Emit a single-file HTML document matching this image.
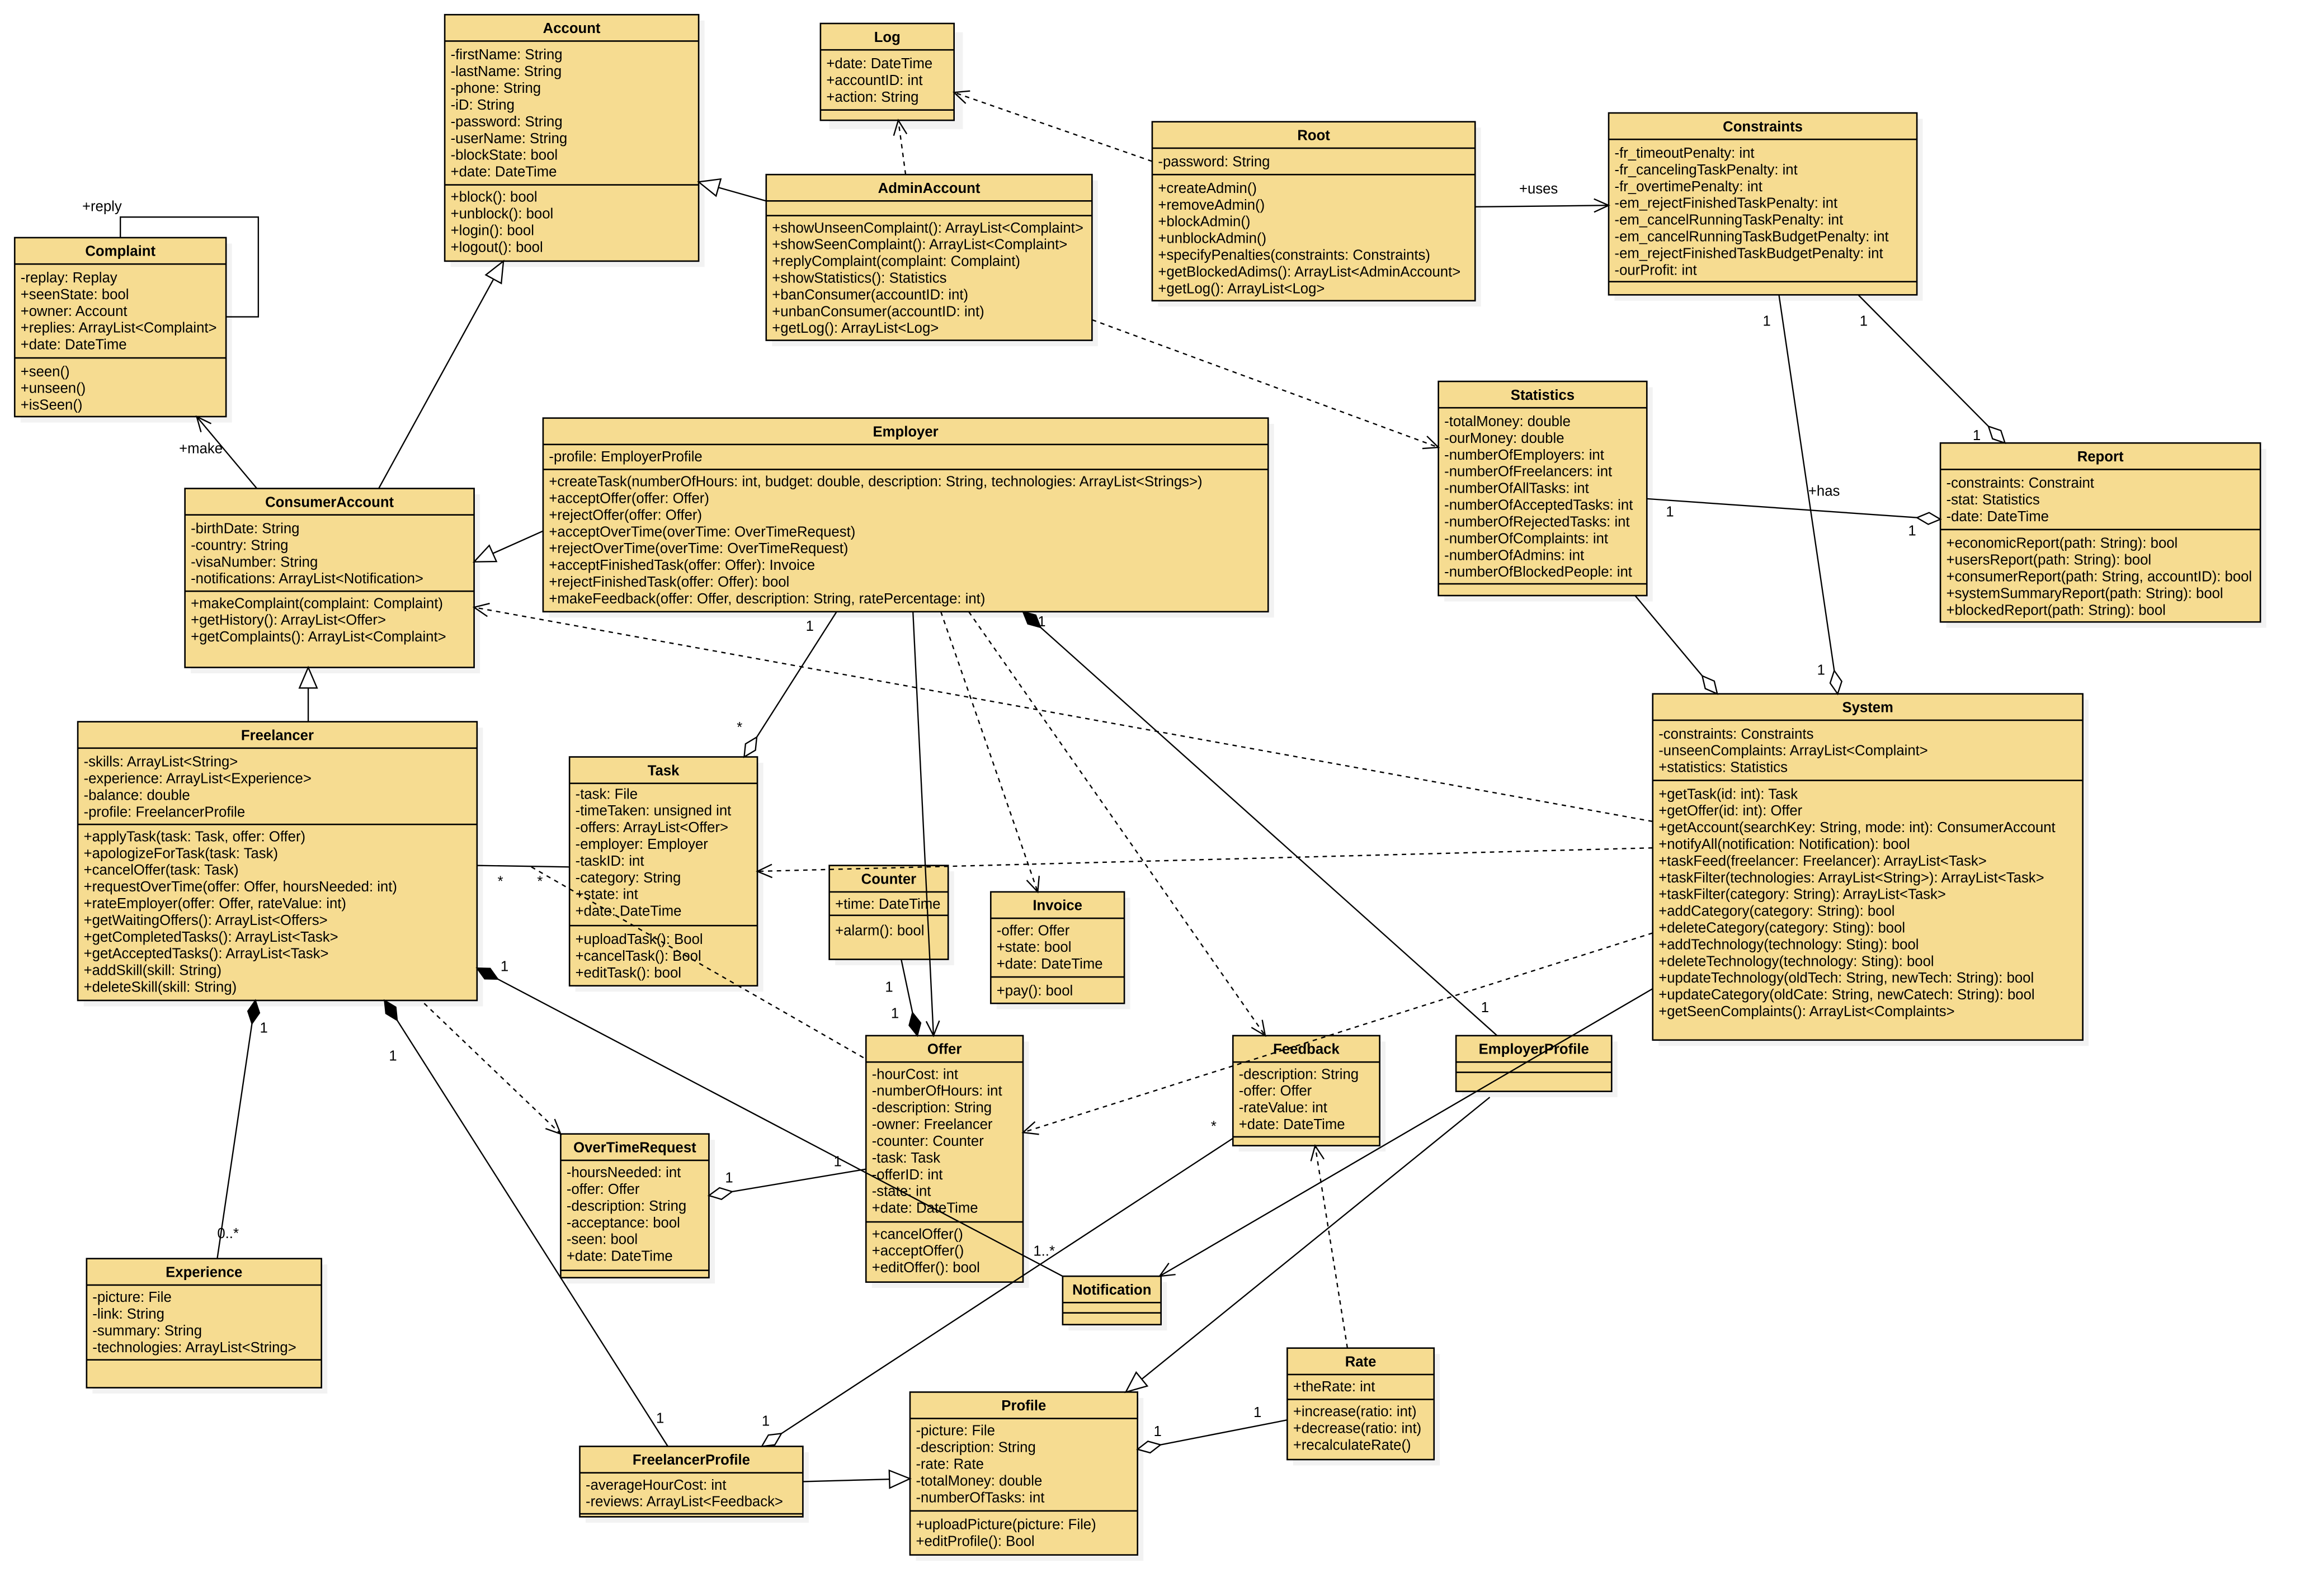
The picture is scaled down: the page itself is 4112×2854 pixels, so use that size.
<!DOCTYPE html>
<html><head><meta charset="utf-8"><style>
html,body{margin:0;padding:0;background:#fff}
svg{display:block}
text{font-family:"Liberation Sans",Arial,sans-serif;font-size:9.8px;fill:#000}
.h{font-weight:bold;text-anchor:middle}
.b{fill:#f6dc91;stroke:#000;stroke-width:1}
.s{fill:#f2f2f2}
.l{stroke:#000;stroke-width:1}
.c{stroke:#000;stroke-width:0.9;fill:none}
.d{stroke:#000;stroke-width:0.9;fill:none;stroke-dasharray:3,3}
</style></head><body>
<svg width="4112" height="2854" viewBox="0 0 1567 1088" preserveAspectRatio="none" xmlns="http://www.w3.org/2000/svg">
<defs>
<marker id="ar" markerUnits="userSpaceOnUse" markerWidth="14" markerHeight="12" refX="10" refY="6" orient="auto" overflow="visible"><path d="M0,1.5 L10,6 L0,10.5" fill="none" stroke="#000" stroke-width="0.9"/></marker>
<marker id="tr" markerUnits="userSpaceOnUse" markerWidth="16" markerHeight="14" refX="14" refY="7" orient="auto" overflow="visible"><path d="M0,1 L14,7 L0,13 Z" fill="#fff" stroke="#000" stroke-width="0.9"/></marker>
<marker id="df" markerUnits="userSpaceOnUse" markerWidth="18" markerHeight="10" refX="16" refY="5" orient="auto" overflow="visible"><path d="M0,5 L8,1 L16,5 L8,9 Z" fill="#000" stroke="#000" stroke-width="0.9"/></marker>
<marker id="dh" markerUnits="userSpaceOnUse" markerWidth="18" markerHeight="10" refX="16" refY="5" orient="auto" overflow="visible"><path d="M0,5 L8,1 L16,5 L8,9 Z" fill="#fff" stroke="#000" stroke-width="0.9"/></marker>
</defs>

<!-- Account -->
<rect class="s" x="307" y="14" width="173" height="168"/>
<rect class="b" x="303" y="10" width="173" height="168"/>
<line class="l" x1="303" y1="28" x2="476" y2="28"/><line class="l" x1="303" y1="126" x2="476" y2="126"/>
<text class="h" x="389.5" y="22.5">Account</text>
<text x="307" y="40.5">-firstName: String<tspan x="307" dy="11.4">-lastName: String</tspan><tspan x="307" dy="11.4">-phone: String</tspan><tspan x="307" dy="11.4">-iD: String</tspan><tspan x="307" dy="11.4">-password: String</tspan><tspan x="307" dy="11.4">-userName: String</tspan><tspan x="307" dy="11.4">-blockState: bool</tspan><tspan x="307" dy="11.4">+date: DateTime</tspan></text>
<text x="307" y="137.5">+block(): bool<tspan x="307" dy="11.4">+unblock(): bool</tspan><tspan x="307" dy="11.4">+login(): bool</tspan><tspan x="307" dy="11.4">+logout(): bool</tspan></text>

<!-- Log -->
<rect class="s" x="565" y="22" width="91" height="66"/>
<rect class="b" x="559" y="16" width="91" height="66"/>
<line class="l" x1="559" y1="34" x2="650" y2="34"/><line class="l" x1="559" y1="75" x2="650" y2="75"/>
<text class="h" x="604.5" y="28.5">Log</text>
<text x="563" y="46.5">+date: DateTime<tspan x="563" dy="11.4">+accountID: int</tspan><tspan x="563" dy="11.4">+action: String</tspan></text>

<!-- AdminAccount -->
<rect class="s" x="526" y="123" width="222" height="113"/>
<rect class="b" x="522" y="119" width="222" height="113"/>
<line class="l" x1="522" y1="137" x2="744" y2="137"/><line class="l" x1="522" y1="147" x2="744" y2="147"/>
<text class="h" x="633" y="131.5">AdminAccount</text>
<text x="526" y="158.5">+showUnseenComplaint(): ArrayList&lt;Complaint&gt;<tspan x="526" dy="11.4">+showSeenComplaint(): ArrayList&lt;Complaint&gt;</tspan><tspan x="526" dy="11.4">+replyComplaint(complaint: Complaint)</tspan><tspan x="526" dy="11.4">+showStatistics(): Statistics</tspan><tspan x="526" dy="11.4">+banConsumer(accountID: int)</tspan><tspan x="526" dy="11.4">+unbanConsumer(accountID: int)</tspan><tspan x="526" dy="11.4">+getLog(): ArrayList&lt;Log&gt;</tspan></text>

<!-- Root -->
<rect class="s" x="789" y="87" width="220" height="122"/>
<rect class="b" x="785" y="83" width="220" height="122"/>
<line class="l" x1="785" y1="101" x2="1005" y2="101"/><line class="l" x1="785" y1="119" x2="1005" y2="119"/>
<text class="h" x="895" y="95.5">Root</text>
<text x="789" y="113.5">-password: String</text>
<text x="789" y="131.5">+createAdmin()<tspan x="789" dy="11.4">+removeAdmin()</tspan><tspan x="789" dy="11.4">+blockAdmin()</tspan><tspan x="789" dy="11.4">+unblockAdmin()</tspan><tspan x="789" dy="11.4">+specifyPenalties(constraints: Constraints)</tspan><tspan x="789" dy="11.4">+getBlockedAdims(): ArrayList&lt;AdminAccount&gt;</tspan><tspan x="789" dy="11.4">+getLog(): ArrayList&lt;Log&gt;</tspan></text>

<!-- Constraints -->
<rect class="s" x="1100" y="81" width="210" height="124"/>
<rect class="b" x="1096" y="77" width="210" height="124"/>
<line class="l" x1="1096" y1="95" x2="1306" y2="95"/><line class="l" x1="1096" y1="192" x2="1306" y2="192"/>
<text class="h" x="1201" y="89.5">Constraints</text>
<text x="1100" y="107.5">-fr_timeoutPenalty: int<tspan x="1100" dy="11.4">-fr_cancelingTaskPenalty: int</tspan><tspan x="1100" dy="11.4">-fr_overtimePenalty: int</tspan><tspan x="1100" dy="11.4">-em_rejectFinishedTaskPenalty: int</tspan><tspan x="1100" dy="11.4">-em_cancelRunningTaskPenalty: int</tspan><tspan x="1100" dy="11.4">-em_cancelRunningTaskBudgetPenalty: int</tspan><tspan x="1100" dy="11.4">-em_rejectFinishedTaskBudgetPenalty: int</tspan><tspan x="1100" dy="11.4">-ourProfit: int</tspan></text>

<!-- Complaint -->
<rect class="s" x="14" y="166" width="144" height="122"/>
<rect class="b" x="10" y="162" width="144" height="122"/>
<line class="l" x1="10" y1="180" x2="154" y2="180"/><line class="l" x1="10" y1="244" x2="154" y2="244"/>
<text class="h" x="82" y="174.5">Complaint</text>
<text x="14" y="192.5">-replay: Replay<tspan x="14" dy="11.4">+seenState: bool</tspan><tspan x="14" dy="11.4">+owner: Account</tspan><tspan x="14" dy="11.4">+replies: ArrayList&lt;Complaint&gt;</tspan><tspan x="14" dy="11.4">+date: DateTime</tspan></text>
<text x="14" y="256.5">+seen()<tspan x="14" dy="11.4">+unseen()</tspan><tspan x="14" dy="11.4">+isSeen()</tspan></text>

<!-- Statistics -->
<rect class="s" x="984" y="264" width="142" height="146"/>
<rect class="b" x="980" y="260" width="142" height="146"/>
<line class="l" x1="980" y1="278" x2="1122" y2="278"/><line class="l" x1="980" y1="398" x2="1122" y2="398"/>
<text class="h" x="1051" y="272.5">Statistics</text>
<text x="984" y="290.5">-totalMoney: double<tspan x="984" dy="11.4">-ourMoney: double</tspan><tspan x="984" dy="11.4">-numberOfEmployers: int</tspan><tspan x="984" dy="11.4">-numberOfFreelancers: int</tspan><tspan x="984" dy="11.4">-numberOfAllTasks: int</tspan><tspan x="984" dy="11.4">-numberOfAcceptedTasks: int</tspan><tspan x="984" dy="11.4">-numberOfRejectedTasks: int</tspan><tspan x="984" dy="11.4">-numberOfComplaints: int</tspan><tspan x="984" dy="11.4">-numberOfAdmins: int</tspan><tspan x="984" dy="11.4">-numberOfBlockedPeople: int</tspan></text>

<!-- Report -->
<rect class="s" x="1326" y="306" width="218" height="122"/>
<rect class="b" x="1322" y="302" width="218" height="122"/>
<line class="l" x1="1322" y1="320" x2="1540" y2="320"/><line class="l" x1="1322" y1="361" x2="1540" y2="361"/>
<text class="h" x="1431" y="314.5">Report</text>
<text x="1326" y="332.5">-constraints: Constraint<tspan x="1326" dy="11.4">-stat: Statistics</tspan><tspan x="1326" dy="11.4">-date: DateTime</tspan></text>
<text x="1326" y="373.5">+economicReport(path: String): bool<tspan x="1326" dy="11.4">+usersReport(path: String): bool</tspan><tspan x="1326" dy="11.4">+consumerReport(path: String, accountID): bool</tspan><tspan x="1326" dy="11.4">+systemSummaryReport(path: String): bool</tspan><tspan x="1326" dy="11.4">+blockedReport(path: String): bool</tspan></text>

<!-- Employer -->
<rect class="s" x="374" y="289" width="494" height="132"/>
<rect class="b" x="370" y="285" width="494" height="132"/>
<line class="l" x1="370" y1="303" x2="864" y2="303"/><line class="l" x1="370" y1="320" x2="864" y2="320"/>
<text class="h" x="617" y="297.5">Employer</text>
<text x="374" y="314.5">-profile: EmployerProfile</text>
<text x="374" y="331.5">+createTask(numberOfHours: int, budget: double, description: String, technologies: ArrayList&lt;Strings&gt;)<tspan x="374" dy="11.4">+acceptOffer(offer: Offer)</tspan><tspan x="374" dy="11.4">+rejectOffer(offer: Offer)</tspan><tspan x="374" dy="11.4">+acceptOverTime(overTime: OverTimeRequest)</tspan><tspan x="374" dy="11.4">+rejectOverTime(overTime: OverTimeRequest)</tspan><tspan x="374" dy="11.4">+acceptFinishedTask(offer: Offer): Invoice</tspan><tspan x="374" dy="11.4">+rejectFinishedTask(offer: Offer): bool</tspan><tspan x="374" dy="11.4">+makeFeedback(offer: Offer, description: String, ratePercentage: int)</tspan></text>

<!-- ConsumerAccount -->
<rect class="s" x="130" y="337" width="197" height="122"/>
<rect class="b" x="126" y="333" width="197" height="122"/>
<line class="l" x1="126" y1="351" x2="323" y2="351"/><line class="l" x1="126" y1="403" x2="323" y2="403"/>
<text class="h" x="224.5" y="345.5">ConsumerAccount</text>
<text x="130" y="363.5">-birthDate: String<tspan x="130" dy="11.4">-country: String</tspan><tspan x="130" dy="11.4">-visaNumber: String</tspan><tspan x="130" dy="11.4">-notifications: ArrayList&lt;Notification&gt;</tspan></text>
<text x="130" y="414.5">+makeComplaint(complaint: Complaint)<tspan x="130" dy="11.4">+getHistory(): ArrayList&lt;Offer&gt;</tspan><tspan x="130" dy="11.4">+getComplaints(): ArrayList&lt;Complaint&gt;</tspan></text>

<!-- Freelancer -->
<rect class="s" x="57" y="496" width="272" height="190"/>
<rect class="b" x="53" y="492" width="272" height="190"/>
<line class="l" x1="53" y1="510" x2="325" y2="510"/><line class="l" x1="53" y1="562" x2="325" y2="562"/>
<text class="h" x="189" y="504.5">Freelancer</text>
<text x="57" y="522.5">-skills: ArrayList&lt;String&gt;<tspan x="57" dy="11.4">-experience: ArrayList&lt;Experience&gt;</tspan><tspan x="57" dy="11.4">-balance: double</tspan><tspan x="57" dy="11.4">-profile: FreelancerProfile</tspan></text>
<text x="57" y="573.5">+applyTask(task: Task, offer: Offer)<tspan x="57" dy="11.4">+apologizeForTask(task: Task)</tspan><tspan x="57" dy="11.4">+cancelOffer(task: Task)</tspan><tspan x="57" dy="11.4">+requestOverTime(offer: Offer, hoursNeeded: int)</tspan><tspan x="57" dy="11.4">+rateEmployer(offer: Offer, rateValue: int)</tspan><tspan x="57" dy="11.4">+getWaitingOffers(): ArrayList&lt;Offers&gt;</tspan><tspan x="57" dy="11.4">+getCompletedTasks(): ArrayList&lt;Task&gt;</tspan><tspan x="57" dy="11.4">+getAcceptedTasks(): ArrayList&lt;Task&gt;</tspan><tspan x="57" dy="11.4">+addSkill(skill: String)</tspan><tspan x="57" dy="11.4">+deleteSkill(skill: String)</tspan></text>

<!-- Task -->
<rect class="s" x="392" y="520" width="128" height="156"/>
<rect class="b" x="388" y="516" width="128" height="156"/>
<line class="l" x1="388" y1="534" x2="516" y2="534"/><line class="l" x1="388" y1="631" x2="516" y2="631"/>
<text class="h" x="452" y="528.5">Task</text>
<text x="392" y="544.5">-task: File<tspan x="392" dy="11.4">-timeTaken: unsigned int</tspan><tspan x="392" dy="11.4">-offers: ArrayList&lt;Offer&gt;</tspan><tspan x="392" dy="11.4">-employer: Employer</tspan><tspan x="392" dy="11.4">-taskID: int</tspan><tspan x="392" dy="11.4">-category: String</tspan><tspan x="392" dy="11.4">+state: int</tspan><tspan x="392" dy="11.4">+date: DateTime</tspan></text>
<text x="392" y="643.5">+uploadTask(): Bool<tspan x="392" dy="11.4">+cancelTask(): Bool</tspan><tspan x="392" dy="11.4">+editTask(): bool</tspan></text>

<!-- Counter -->
<rect class="s" x="569" y="594" width="81" height="64"/>
<rect class="b" x="565" y="590" width="81" height="64"/>
<line class="l" x1="565" y1="608" x2="646" y2="608"/><line class="l" x1="565" y1="624" x2="646" y2="624"/>
<text class="h" x="605.5" y="602.5">Counter</text>
<text x="569" y="619.5">+time: DateTime</text>
<text x="569" y="637.5">+alarm(): bool</text>

<!-- Invoice -->
<rect class="s" x="679" y="612" width="91" height="76"/>
<rect class="b" x="675" y="608" width="91" height="76"/>
<line class="l" x1="675" y1="626" x2="766" y2="626"/><line class="l" x1="675" y1="666" x2="766" y2="666"/>
<text class="h" x="720.5" y="620.5">Invoice</text>
<text x="679" y="637.5">-offer: Offer<tspan x="679" dy="11.4">+state: bool</tspan><tspan x="679" dy="11.4">+date: DateTime</tspan></text>
<text x="679" y="678.5">+pay(): bool</text>

<!-- System -->
<rect class="s" x="1130" y="477" width="293" height="236"/>
<rect class="b" x="1126" y="473" width="293" height="236"/>
<line class="l" x1="1126" y1="491" x2="1419" y2="491"/><line class="l" x1="1126" y1="532" x2="1419" y2="532"/>
<text class="h" x="1272.5" y="485.5">System</text>
<text x="1130" y="503.5">-constraints: Constraints<tspan x="1130" dy="11.4">-unseenComplaints: ArrayList&lt;Complaint&gt;</tspan><tspan x="1130" dy="11.4">+statistics: Statistics</tspan></text>
<text x="1130" y="544.5">+getTask(id: int): Task<tspan x="1130" dy="11.4">+getOffer(id: int): Offer</tspan><tspan x="1130" dy="11.4">+getAccount(searchKey: String, mode: int): ConsumerAccount</tspan><tspan x="1130" dy="11.4">+notifyAll(notification: Notification): bool</tspan><tspan x="1130" dy="11.4">+taskFeed(freelancer: Freelancer): ArrayList&lt;Task&gt;</tspan><tspan x="1130" dy="11.4">+taskFilter(technologies: ArrayList&lt;String&gt;): ArrayList&lt;Task&gt;</tspan><tspan x="1130" dy="11.4">+taskFilter(category: String): ArrayList&lt;Task&gt;</tspan><tspan x="1130" dy="11.4">+addCategory(category: String): bool</tspan><tspan x="1130" dy="11.4">+deleteCategory(category: Sting): bool</tspan><tspan x="1130" dy="11.4">+addTechnology(technology: Sting): bool</tspan><tspan x="1130" dy="11.4">+deleteTechnology(technology: Sting): bool</tspan><tspan x="1130" dy="11.4">+updateTechnology(oldTech: String, newTech: String): bool</tspan><tspan x="1130" dy="11.4">+updateCategory(oldCate: String, newCatech: String): bool</tspan><tspan x="1130" dy="11.4">+getSeenComplaints(): ArrayList&lt;Complaints&gt;</tspan></text>

<!-- Offer -->
<rect class="s" x="594" y="710" width="107" height="168"/>
<rect class="b" x="590" y="706" width="107" height="168"/>
<line class="l" x1="590" y1="724" x2="697" y2="724"/><line class="l" x1="590" y1="833" x2="697" y2="833"/>
<text class="h" x="643.5" y="718.5">Offer</text>
<text x="594" y="735.5">-hourCost: int<tspan x="594" dy="11.4">-numberOfHours: int</tspan><tspan x="594" dy="11.4">-description: String</tspan><tspan x="594" dy="11.4">-owner: Freelancer</tspan><tspan x="594" dy="11.4">-counter: Counter</tspan><tspan x="594" dy="11.4">-task: Task</tspan><tspan x="594" dy="11.4">-offerID: int</tspan><tspan x="594" dy="11.4">-state: int</tspan><tspan x="594" dy="11.4">+date: DateTime</tspan></text>
<text x="594" y="844.5">+cancelOffer()<tspan x="594" dy="11.4">+acceptOffer()</tspan><tspan x="594" dy="11.4">+editOffer(): bool</tspan></text>

<!-- Feedback -->
<rect class="s" x="844" y="710" width="100" height="75"/>
<rect class="b" x="840" y="706" width="100" height="75"/>
<line class="l" x1="840" y1="724" x2="940" y2="724"/><line class="l" x1="840" y1="775" x2="940" y2="775"/>
<text class="h" x="890" y="718.5">Feedback</text>
<text x="844" y="735.5">-description: String<tspan x="844" dy="11.4">-offer: Offer</tspan><tspan x="844" dy="11.4">-rateValue: int</tspan><tspan x="844" dy="11.4">+date: DateTime</tspan></text>

<!-- EmployerProfile -->
<rect class="s" x="996" y="710" width="106" height="38"/>
<rect class="b" x="992" y="706" width="106" height="38"/>
<line class="l" x1="992" y1="724" x2="1098" y2="724"/><line class="l" x1="992" y1="731" x2="1098" y2="731"/>
<text class="h" x="1045" y="718.5">EmployerProfile</text>

<!-- OverTimeRequest -->
<rect class="s" x="386" y="777" width="101" height="98"/>
<rect class="b" x="382" y="773" width="101" height="98"/>
<line class="l" x1="382" y1="791" x2="483" y2="791"/><line class="l" x1="382" y1="866" x2="483" y2="866"/>
<text class="h" x="432.5" y="785.5">OverTimeRequest</text>
<text x="386" y="802.5">-hoursNeeded: int<tspan x="386" dy="11.4">-offer: Offer</tspan><tspan x="386" dy="11.4">-description: String</tspan><tspan x="386" dy="11.4">-acceptance: bool</tspan><tspan x="386" dy="11.4">-seen: bool</tspan><tspan x="386" dy="11.4">+date: DateTime</tspan></text>

<!-- Notification -->
<rect class="s" x="728" y="874" width="67" height="33"/>
<rect class="b" x="724" y="870" width="67" height="33"/>
<line class="l" x1="724" y1="888" x2="791" y2="888"/><line class="l" x1="724" y1="895" x2="791" y2="895"/>
<text class="h" x="757.5" y="882.5">Notification</text>

<!-- Experience -->
<rect class="s" x="63" y="862" width="160" height="88"/>
<rect class="b" x="59" y="858" width="160" height="88"/>
<line class="l" x1="59" y1="876" x2="219" y2="876"/><line class="l" x1="59" y1="927" x2="219" y2="927"/>
<text class="h" x="139" y="870.5">Experience</text>
<text x="63" y="887.5">-picture: File<tspan x="63" dy="11.4">-link: String</tspan><tspan x="63" dy="11.4">-summary: String</tspan><tspan x="63" dy="11.4">-technologies: ArrayList&lt;String&gt;</tspan></text>

<!-- Rate -->
<rect class="s" x="881" y="923" width="100" height="76"/>
<rect class="b" x="877" y="919" width="100" height="76"/>
<line class="l" x1="877" y1="937" x2="977" y2="937"/><line class="l" x1="877" y1="954" x2="977" y2="954"/>
<text class="h" x="927" y="931.5">Rate</text>
<text x="881" y="948.5">+theRate: int</text>
<text x="881" y="965.5">+increase(ratio: int)<tspan x="881" dy="11.4">+decrease(ratio: int)</tspan><tspan x="881" dy="11.4">+recalculateRate()</tspan></text>

<!-- Profile -->
<rect class="s" x="624" y="953" width="155" height="111"/>
<rect class="b" x="620" y="949" width="155" height="111"/>
<line class="l" x1="620" y1="967" x2="775" y2="967"/><line class="l" x1="620" y1="1030" x2="775" y2="1030"/>
<text class="h" x="697.5" y="961.5">Profile</text>
<text x="624" y="978.5">-picture: File<tspan x="624" dy="11.4">-description: String</tspan><tspan x="624" dy="11.4">-rate: Rate</tspan><tspan x="624" dy="11.4">-totalMoney: double</tspan><tspan x="624" dy="11.4">-numberOfTasks: int</tspan></text>
<text x="624" y="1042.5">+uploadPicture(picture: File)<tspan x="624" dy="11.4">+editProfile(): Bool</tspan></text>

<!-- FreelancerProfile -->
<rect class="s" x="399" y="990" width="152" height="48"/>
<rect class="b" x="395" y="986" width="152" height="48"/>
<line class="l" x1="395" y1="1004" x2="547" y2="1004"/><line class="l" x1="395" y1="1032" x2="547" y2="1032"/>
<text class="h" x="471" y="998.5">FreelancerProfile</text>
<text x="399" y="1015.5">-averageHourCost: int<tspan x="399" dy="11.4">-reviews: ArrayList&lt;Feedback&gt;</tspan></text>

<!-- Connectors -->
<path class="c" d="M522,137 L476,124" marker-end="url(#tr)"/>
<path class="d" d="M617,119 L612,82" marker-end="url(#ar)"/>
<path class="d" d="M785,110 L650,63" marker-end="url(#ar)"/>
<path class="c" d="M1005,141 L1096,140" marker-end="url(#ar)"/>
<text x="1035" y="132">+uses</text>
<path class="d" d="M744,218 L980,305" marker-end="url(#ar)"/>
<path class="c" d="M82,162 L82,148 L176,148 L176,216 L154,216"/>
<text x="56" y="144">+reply</text>
<path class="c" d="M175,333 L134,284" marker-end="url(#ar)"/>
<text x="122" y="309">+make</text>
<path class="c" d="M258,333 L343,178" marker-end="url(#tr)"/>
<path class="c" d="M370,362 L323,383" marker-end="url(#tr)"/>
<path class="c" d="M210,492 L210,455" marker-end="url(#tr)"/>
<path class="c" d="M1266,201 L1366,302" marker-end="url(#dh)"/>
<text x="1267" y="222">1</text><text x="1344" y="300">1</text>
<path class="c" d="M1212,201 L1252,473" marker-end="url(#dh)"/>
<text x="1201" y="222">1</text><text x="1232" y="338">+has</text><text x="1238" y="460">1</text>
<path class="c" d="M1122,340 L1322,354" marker-end="url(#dh)"/>
<text x="1135" y="352">1</text><text x="1300" y="365">1</text>
<path class="c" d="M1114,406 L1170,473" marker-end="url(#dh)"/>
<path class="d" d="M1126,560 L323,414" marker-end="url(#ar)"/>
<path class="d" d="M1126,578 L516,594" marker-end="url(#ar)"/>
<path class="d" d="M1126,636 L697,772" marker-end="url(#ar)"/>
<path class="c" d="M1126,674 L790,870" marker-end="url(#ar)"/>
<path class="c" d="M1015,748 L767,949" marker-end="url(#tr)"/>
<path class="c" d="M1020,706 L697,417" marker-end="url(#df)"/>
<text x="707" y="427">1</text><text x="1009" y="690">1</text>
<path class="c" d="M570,417 L507,516" marker-end="url(#dh)"/>
<text x="549" y="430">1</text><text x="502" y="499">*</text>
<path class="c" d="M622,417 L636,706" marker-end="url(#ar)"/>
<path class="d" d="M641,417 L707,608" marker-end="url(#ar)"/>
<path class="d" d="M660,417 L862,706" marker-end="url(#ar)"/>
<path class="c" d="M325,590 L388,591"/>
<text x="339" y="604">*</text><text x="366" y="604">*</text>
<path class="d" d="M362,591 L590,722"/>
<path class="c" d="M724,870 L325,660" marker-end="url(#df)"/>
<text x="341" y="662">1</text><text x="704" y="856">1..*</text>
<path class="d" d="M289,684 L382,773" marker-end="url(#ar)"/>
<path class="c" d="M148,858 L174,682" marker-end="url(#df)"/>
<text x="177" y="704">1</text><text x="148" y="844">0..*</text>
<path class="c" d="M455,986 L262,682" marker-end="url(#df)"/>
<text x="265" y="723">1</text><text x="447" y="970">1</text>
<path class="c" d="M614,654 L625,706" marker-end="url(#df)"/>
<text x="603" y="676">1</text><text x="607" y="694">1</text>
<path class="c" d="M590,797 L483,815" marker-end="url(#dh)"/>
<text x="494" y="806">1</text><text x="568" y="795">1</text>
<path class="c" d="M840,776 L519,986" marker-end="url(#dh)"/>
<text x="825" y="771">*</text><text x="519" y="972">1</text>
<path class="d" d="M918,919 L896,781" marker-end="url(#ar)"/>
<path class="c" d="M877,968 L775,988" marker-end="url(#dh)"/>
<text x="786" y="979">1</text><text x="854" y="966">1</text>
<path class="c" d="M547,1010 L620,1008" marker-end="url(#tr)"/>
</svg>
</body></html>
